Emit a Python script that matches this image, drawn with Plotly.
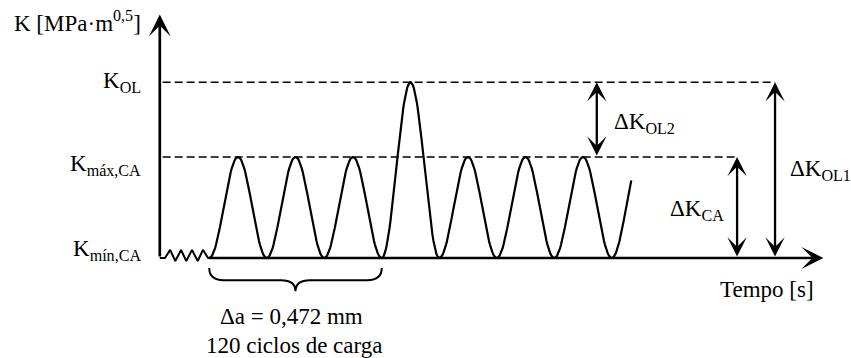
import numpy as np
import plotly.graph_objects as go

# Stress-intensity levels, normalised so that K_min,CA = 0 and K_max,CA = 1
K_MIN = 0.0
K_MAX = 1.0
K_OL = 1.74

# Peak of every loading cycle: constant amplitude, one overload, constant amplitude
cycle_peaks = [K_MAX, K_MAX, K_MAX, K_OL, K_MAX, K_MAX, K_MAX]
last_cycle_fraction = 0.34  # signal stops part-way up the following cycle

# Axis-break zigzag before the signal starts (time in cycles, K)
zig_t = [-0.86, -0.77, -0.68, -0.59, -0.49, -0.40, -0.30, -0.20, -0.11, -0.02, 0.0]
zig_k = [0.0, 0.0, 0.08, -0.03, 0.08, -0.03, 0.08, -0.03, 0.08, 0.0, 0.0]

# Schematic positions (time in cycles)
T_AXIS = -0.86        # vertical K axis
T_END = 10.68         # tip of the time axis
K_TOP = 2.41          # tip of the K axis
T_DK_OL2 = 6.74
T_DK_CA = 9.18
T_DK_OL1 = 9.84
BRACE_T = [0.0, 3.0]  # cycles covered by the brace

FONT = dict(family="Liberation Serif", size=23, color="black")

# Load signal: each cycle is a raised cosine reaching that cycle's peak
t_sig, k_sig = [], []
for i, peak in enumerate(cycle_peaks + [K_MAX]):
    frac = 1.0 if i < len(cycle_peaks) else last_cycle_fraction
    u = np.linspace(0, frac, 60)
    t_sig.extend(i + u)
    k_sig.extend(K_MIN + (peak - K_MIN) * (1 - np.cos(2 * np.pi * u)) / 2)

fig = go.Figure()

# dashed reference levels
fig.add_trace(go.Scatter(x=[T_AXIS + 0.05, T_DK_OL1], y=[K_OL, K_OL], mode="lines",
                         line=dict(color="black", width=1.4, dash="8px,4px"),
                         hoverinfo="skip"))
fig.add_trace(go.Scatter(x=[T_AXIS + 0.05, T_DK_CA], y=[K_MAX, K_MAX], mode="lines",
                         line=dict(color="black", width=1.4, dash="8px,4px"),
                         hoverinfo="skip"))

# zigzag break on the time axis
fig.add_trace(go.Scatter(x=zig_t, y=zig_k, mode="lines",
                         line=dict(color="black", width=2.0), hoverinfo="skip"))

# the loading signal
fig.add_trace(go.Scatter(x=t_sig, y=k_sig, mode="lines",
                         line=dict(color="black", width=2.2), hoverinfo="skip"))

# brace under the first cycles
b0, b1 = BRACE_T
bm = (b0 + b1) / 2
top, arm, tip, r = -0.10, -0.22, -0.33, 0.25
brace = (f"M{b0},{top} Q{b0},{arm} {b0 + r},{arm} L{bm - r},{arm} "
         f"Q{bm},{arm} {bm},{tip} Q{bm},{arm} {bm + r},{arm} "
         f"L{b1 - r},{arm} Q{b1},{arm} {b1},{top}")
fig.add_shape(type="path", path=brace, xref="x", yref="y",
              line=dict(color="black", width=2))

annotations = []


def arrow(x0, y0, x1, y1, width, size, both=False):
    a = dict(x=x1, y=y1, ax=x0, ay=y0, xref="x", yref="y", axref="x", ayref="y",
             text="", showarrow=True, arrowhead=3, arrowsize=size,
             arrowwidth=width, arrowcolor="black", standoff=0)
    if both:
        a.update(arrowside="end+start", startarrowhead=3, startarrowsize=size,
                 startstandoff=0)
    annotations.append(a)


# axes
arrow(T_AXIS, K_MIN, T_AXIS, K_TOP, 2.7, 1.35)
arrow(-0.03, K_MIN, T_END, K_MIN, 2.7, 1.35)

# double arrows for the K ranges
arrow(T_DK_OL2, K_MAX, T_DK_OL2, K_OL, 2.3, 1.4, both=True)
arrow(T_DK_CA, K_MIN, T_DK_CA, K_MAX, 2.3, 1.4, both=True)
arrow(T_DK_OL1, K_MIN, T_DK_OL1, K_OL, 2.3, 1.4, both=True)


def label(text, x, y, xanchor):
    annotations.append(dict(text=text, x=x, y=y, xref="x", yref="y",
                            xanchor=xanchor, yanchor="middle", showarrow=False,
                            font=FONT))


label("K [MPa·m<sup>0,5</sup>]", -3.43, 2.34, "left")
label("K<sub>OL</sub>", -1.15, 1.74, "right")
label("K<sub>máx,CA</sub>", -1.15, 0.92, "right")
label("K<sub>mín,CA</sub>", -1.15, 0.08, "right")
label("ΔK<sub>OL2</sub>", 7.0, 1.337, "left")
label("ΔK<sub>CA</sub>", 7.97, 0.475, "left")
label("ΔK<sub>OL1</sub>", 10.06, 0.871, "left")
label("Tempo [s]", 8.84, -0.307, "left")
label("Δa = 0,472 mm", 1.43, -0.584, "center")
label("120 ciclos de carga", 1.47, -0.871, "center")

fig.update_layout(
    width=851, height=358,
    margin=dict(l=0, r=0, t=0, b=0),
    paper_bgcolor="white", plot_bgcolor="white",
    showlegend=False,
    annotations=annotations,
    xaxis=dict(range=[-3.639, 11.161], visible=False, fixedrange=True),
    yaxis=dict(range=[-0.990, 2.554], visible=False, fixedrange=True),
)

fig.write_html("out.html")
